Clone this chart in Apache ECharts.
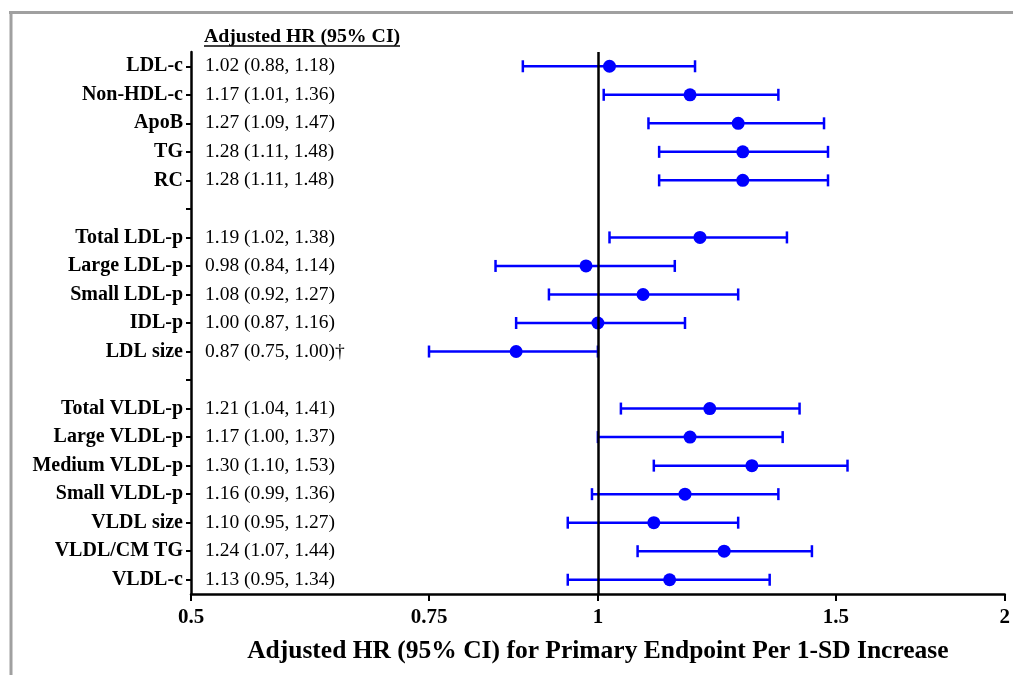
<!DOCTYPE html>
<html>
<head>
<meta charset="utf-8">
<script src="https://cdn.jsdelivr.net/npm/echarts@6/dist/echarts.min.js"></script>
<style>
html,body{margin:0;padding:0;background:#fff;}
#chart{width:1013px;height:675px;}
</style>
</head>
<body>
<div id="chart"></div>
<script>
// ---- data ----
const categories = ['LDL-c','Non-HDL-c','ApoB','TG','RC','',
  'Total LDL-p','Large LDL-p','Small LDL-p','IDL-p','LDL size','',
  'Total VLDL-p','Large VLDL-p','Medium VLDL-p','Small VLDL-p','VLDL size','VLDL/CM TG','VLDL-c'];
const hr    = [1.02,1.17,1.27,1.28,1.28,null,1.19,0.98,1.08,1.00,0.87,null,1.21,1.17,1.30,1.16,1.10,1.24,1.13];
const lower = [0.88,1.01,1.09,1.11,1.11,null,1.02,0.84,0.92,0.87,0.75,null,1.04,1.00,1.10,0.99,0.95,1.07,0.95];
const upper = [1.18,1.36,1.47,1.48,1.48,null,1.38,1.14,1.27,1.16,1.00,null,1.41,1.37,1.53,1.36,1.27,1.44,1.34];
const ciText = ['1.02 (0.88, 1.18)','1.17 (1.01, 1.36)','1.27 (1.09, 1.47)','1.28 (1.11, 1.48)','1.28 (1.11, 1.48)','',
  '1.19 (1.02, 1.38)','0.98 (0.84, 1.14)','1.08 (0.92, 1.27)','1.00 (0.87, 1.16)','0.87 (0.75, 1.00)\u2020','',
  '1.21 (1.04, 1.41)','1.17 (1.00, 1.37)','1.30 (1.10, 1.53)','1.16 (0.99, 1.36)','1.10 (0.95, 1.27)','1.24 (1.07, 1.44)','1.13 (0.95, 1.34)'];
const xTicks = [0.5, 0.75, 1, 1.5, 2];
const refValue = 1;
const headerText = 'Adjusted HR (95% CI)';
const xAxisTitle = 'Adjusted HR (95% CI) for Primary Endpoint Per 1-SD Increase';

// ---- build ----
const serif = '"Liberation Serif","Times New Roman",serif';
const barData = [], pointData = [];
categories.forEach((c, i) => {
  if (hr[i] != null) {
    barData.push([i, hr[i], lower[i], upper[i]]);
    pointData.push([hr[i], i]);
  }
});
const blue = '#0000ff';

const chart = echarts.init(document.getElementById('chart'), null, {renderer: 'canvas'});
chart.setOption({
  animation: false,
  backgroundColor: '#fff',
  grid: {left: 191, right: 8, top: 52, bottom: 81, containLabel: false},
  xAxis: {
    type: 'log', logBase: 2, min: 0.5, max: 2,
    name: xAxisTitle, nameLocation: 'middle', nameGap: 44,
    nameTextStyle: {fontFamily: serif, fontWeight: 'bold', fontSize: 25.5, color: '#000'},
    axisLine: {show: true, onZero: false, lineStyle: {color: '#000', width: 2.5}},
    axisTick: {show: true, length: 7, lineStyle: {color: '#000', width: 2}, customValues: xTicks},
    axisLabel: {customValues: xTicks, fontFamily: serif, fontWeight: 'bold', fontSize: 21, color: '#000', margin: 13,
      formatter: v => String(Math.round(v * 100) / 100)},
    splitLine: {show: false},
    minorTick: {show: false}
  },
  yAxis: [{
    type: 'category', data: categories, inverse: true,
    axisLine: {show: true, onZero: false, lineStyle: {color: '#000', width: 2.5}},
    axisTick: {show: true, length: 5, alignWithLabel: true, interval: 0, lineStyle: {color: '#000', width: 2}},
    axisLabel: {interval: 0, fontFamily: serif, fontWeight: 'bold', fontSize: 20, color: '#000', margin: 8},
    splitLine: {show: false}
  }, {
    type: 'category', data: ciText, inverse: true, position: 'left',
    axisLine: {show: false}, axisTick: {show: false}, splitLine: {show: false},
    axisLabel: {inside: true, interval: 0, fontFamily: serif, fontSize: 19.5, color: '#000', margin: 14}
  }],
  graphic: [
    {type: 'line', shape: {x1: 9, y1: 12.5, x2: 1013, y2: 12.5}, style: {stroke: '#a0a0a0', lineWidth: 3}, silent: true},
    {type: 'line', shape: {x1: 11, y1: 11, x2: 11, y2: 675}, style: {stroke: '#a0a0a0', lineWidth: 3}, silent: true},
    {type: 'text', left: 204, top: 27, style: {text: headerText, fontFamily: serif, fontWeight: 'bold', fontSize: 19.8, fill: '#000'}},
    {type: 'line', shape: {x1: 204, y1: 46, x2: 400, y2: 46}, style: {stroke: '#000', lineWidth: 1.5}}
  ],
  series: [{
    type: 'custom',
    z: 2,
    encode: {x: [1, 2, 3], y: 0},
    data: barData,
    renderItem: function (params, api) {
      const y = api.value(0);
      const lo = api.coord([api.value(2), y]);
      const hi = api.coord([api.value(3), y]);
      const cap = 6;
      const style = {stroke: blue, lineWidth: 2.5};
      return {type: 'group', children: [
        {type: 'line', shape: {x1: lo[0], y1: lo[1], x2: hi[0], y2: hi[1]}, style: style},
        {type: 'line', shape: {x1: lo[0], y1: lo[1] - cap, x2: lo[0], y2: lo[1] + cap}, style: style},
        {type: 'line', shape: {x1: hi[0], y1: hi[1] - cap, x2: hi[0], y2: hi[1] + cap}, style: style}
      ]};
    }
  }, {
    type: 'scatter',
    z: 3,
    symbol: 'circle', symbolSize: 13,
    itemStyle: {color: blue, opacity: 1},
    data: pointData
  }, {
    type: 'line',
    z: 5,
    data: [],
    markLine: {
      silent: true, symbol: 'none', animation: false,
      label: {show: false},
      lineStyle: {color: '#000', width: 2.5, type: 'solid'},
      data: [{xAxis: refValue}]
    }
  }]
});
</script>
</body>
</html>
